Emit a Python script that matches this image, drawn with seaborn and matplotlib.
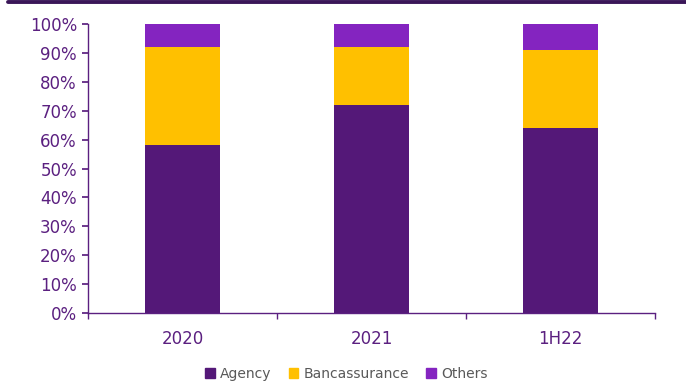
import matplotlib
matplotlib.use("Agg")
import matplotlib.pyplot as plt
import seaborn as sns
import pandas as pd
import numpy as np
from matplotlib.patches import Patch
from matplotlib.lines import Line2D

categories = ["2020", "2021", "1H22"]
agency = [58, 72, 64]
bancassurance = [34, 20, 27]
others = [8, 8, 9]
yticks = [0, 10, 20, 30, 40, 50, 60, 70, 80, 90, 100]

c_agency = "#541878"
c_banc = "#FFC000"
c_others = "#8424C0"
txt = "#5B2080"

sns.set_theme(style="white")
plt.rcParams['font.family'] = ['DejaVu Sans']

fig = plt.figure(figsize=(6.86, 3.85), dpi=100)
ax = fig.add_axes([88/686, 72/385, (655-88)/686, (313-24)/385])

df = pd.DataFrame({"cat": categories, "a": agency, "b": bancassurance, "o": others})
df["ab"] = df["a"] + df["b"]
df["abo"] = df["ab"] + df["o"]

w = 0.4
sns.barplot(data=df, x="cat", y="abo", color=c_others, width=w, ax=ax, saturation=1, edgecolor="none")
sns.barplot(data=df, x="cat", y="ab", color=c_banc, width=w, ax=ax, saturation=1, edgecolor="none")
sns.barplot(data=df, x="cat", y="a", color=c_agency, width=w, ax=ax, saturation=1, edgecolor="none")

ax.set_xlim(-0.5, 2.5)
ax.set_ylim(0, 100)
ax.set_yticks(yticks)
ax.set_yticklabels([f"{v}%" for v in yticks])
ax.set_xlabel("")
ax.set_ylabel("")

for s in ["top", "right"]:
    ax.spines[s].set_visible(False)
for s in ["left", "bottom"]:
    ax.spines[s].set_color(txt)
    ax.spines[s].set_linewidth(1.0)

ax.tick_params(axis="y", which="major", direction="out", length=4, color=txt, labelcolor=txt, labelsize=12, left=True, pad=4)
ax.tick_params(axis="x", which="major", length=0, labelcolor=txt, labelsize=12, pad=12)
ax.set_xticks([-0.5, 0.5, 1.5, 2.5], minor=True)
ax.tick_params(axis="x", which="minor", direction="out", length=4, color=txt, bottom=True)

handles = [Patch(color=c_agency, label="Agency"),
           Patch(color=c_banc, label="Bancassurance"),
           Patch(color=c_others, label="Others")]
leg = fig.legend(handles=handles, loc="center", bbox_to_anchor=(0.505, 11/385), ncol=3, frameon=False,
                 fontsize=10, handlelength=0.7, handleheight=0.7, handletextpad=0.4, columnspacing=1.2)
for t in leg.get_texts():
    t.set_color("#595959")

fig.add_artist(Line2D([8/686, 1.0], [1-1.5/385, 1-1.5/385], color="#3A1658", linewidth=2.8, transform=fig.transFigure))

fig.savefig("out.png", dpi=100)
